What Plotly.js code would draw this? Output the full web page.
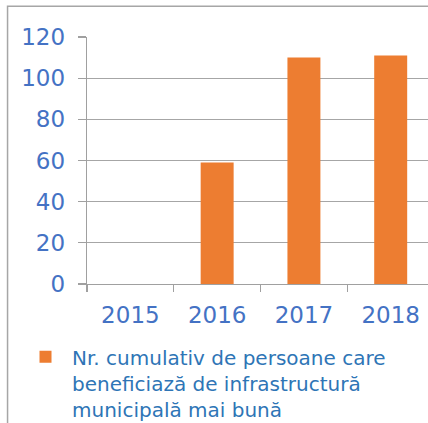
<!DOCTYPE html>
<html>
<head>
<meta charset="utf-8">
<script src="https://cdn.plot.ly/plotly-3.0.1.min.js"></script>
<style>html,body{margin:0;padding:0;background:#fff;}#chart{width:428px;height:423px;}</style>
</head>
<body>
<div id="chart"></div>
<script>
var years = ['2015', '2016', '2017', '2018'];
var values = [0, 59, 110, 111];
var seriesName = 'Nr. cumulativ de persoane care<br>beneficiază de infrastructură<br>municipală mai bună';
var yTicks = [0, 20, 40, 60, 80, 100, 120];

var trace = {
  type: 'bar',
  x: years,
  y: values,
  name: seriesName,
  marker: {color: '#ED7D31', line: {width: 0}},
  showlegend: true,
  hoverinfo: 'skip'
};

var layout = {
  width: 428,
  height: 423,
  margin: {l: 87, r: 0, t: 37, b: 139, pad: 0, autoexpand: false},
  paper_bgcolor: '#ffffff',
  plot_bgcolor: '#ffffff',
  bargap: 0.62,
  font: {family: 'DejaVu Sans', color: '#4472C4'},
  xaxis: {
    type: 'category',
    range: [-0.5, 3.43],
    showgrid: false,
    showline: true,
    linecolor: '#a0a0a0',
    linewidth: 1.3,
    ticks: 'outside',
    tickson: 'boundaries',
    ticklen: 7,
    tickcolor: '#a0a0a0',
    tickwidth: 1.3,
    ticklabelstandoff: 10,
    tickfont: {family: 'DejaVu Sans', size: 23, color: '#4472C4'},
    fixedrange: true
  },
  yaxis: {
    range: [0, 120],
    tickvals: yTicks,
    ticktext: yTicks.map(String),
    showgrid: true,
    gridcolor: '#a6a6a6',
    gridwidth: 1.3,
    showline: true,
    linecolor: '#a0a0a0',
    linewidth: 1.3,
    ticks: 'outside',
    ticklen: 8,
    tickcolor: '#a0a0a0',
    tickwidth: 1.3,
    ticklabelstandoff: 8,
    zeroline: false,
    tickfont: {family: 'DejaVu Sans', size: 23, color: '#4472C4'},
    fixedrange: true
  },
  legend: {
    x: -0.1994,
    xanchor: 'left',
    y: -0.216,
    yanchor: 'top',
    valign: 'top',
    itemwidth: 43,
    font: {family: 'DejaVu Sans', size: 20, color: '#2E75B6'},
    bgcolor: 'rgba(0,0,0,0)',
    borderwidth: 0
  },
  shapes: [{
    type: 'rect',
    xref: 'paper', yref: 'paper',
    x0: -0.233, x1: 1.2, y0: -1, y1: 1.125,
    line: {color: '#a6a6a6', width: 1.5},
    fillcolor: 'rgba(0,0,0,0)',
    layer: 'below'
  }]
};

Plotly.newPlot('chart', [trace], layout, {displayModeBar: false, staticPlot: true});
</script>
</body>
</html>
